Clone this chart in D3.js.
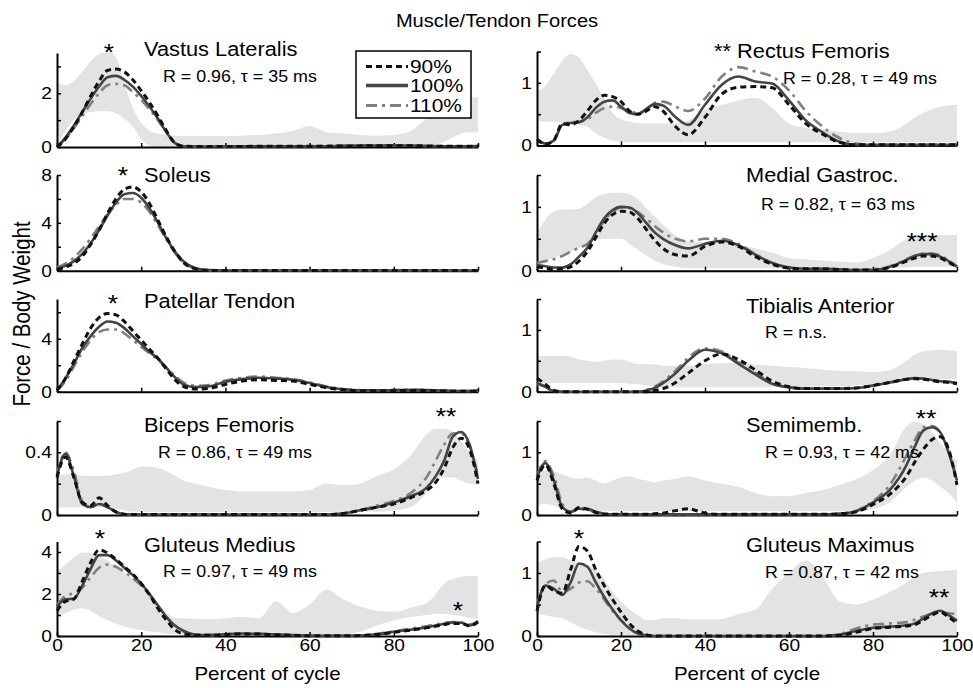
<!DOCTYPE html>
<html>
<head>
<meta charset="utf-8">
<script src="https://cdnjs.cloudflare.com/ajax/libs/d3/7.8.5/d3.min.js"></script>
<style>
  body { margin: 0; background: #fff; }
  svg text { font-family: "Liberation Sans", Arial, Helvetica, sans-serif; fill: #000; }
</style>
</head>
<body>
<div id="chart"></div>
<script>
// percent of gait cycle (shared x grid)
var pct = [0,2,4,6,8,10,12,14,16,18,20,22,24,26,28,30,33,36,40,44,48,52,56,60,64,68,72,76,80,84,88,90,92,94,96,98,100];

// Vastus Lateralis
var vl90  = [0,0.3,0.75,1.3,1.9,2.45,2.85,2.9,2.8,2.5,2.1,1.65,1.15,0.6,0.15,0.03,0.02,0.02,0.02,0.02,0.03,0.03,0.03,0.03,0.03,0.04,0.04,0.05,0.05,0.05,0.04,0.03,0.03,0.03,0.03,0.03,0.04];
var vl100 = [0,0.35,0.8,1.3,1.8,2.25,2.6,2.65,2.5,2.25,1.9,1.5,1.05,0.55,0.15,0.03,0.02,0.02,0.02,0.03,0.03,0.03,0.03,0.03,0.03,0.04,0.05,0.05,0.06,0.05,0.04,0.03,0.03,0.03,0.03,0.03,0.04];
var vl110 = [0,0.3,0.7,1.15,1.6,2.0,2.3,2.35,2.3,2.05,1.75,1.4,1.0,0.55,0.15,0.03,0.02,0.02,0.02,0.03,0.03,0.03,0.03,0.03,0.04,0.05,0.05,0.06,0.06,0.05,0.04,0.04,0.03,0.03,0.03,0.03,0.04];
var vlHi  = [2.4,2.3,2.45,2.8,3.2,3.45,3.55,3.35,2.4,1.45,0.9,0.6,0.5,0.45,0.42,0.42,0.42,0.4,0.4,0.42,0.45,0.5,0.6,0.78,0.55,0.5,0.45,0.42,0.45,0.6,1.1,1.4,1.75,1.85,1.85,1.85,1.85];
var vlLo  = [0.1,0.6,1.0,1.2,1.3,1.33,1.33,1.25,1.05,0.76,0.3,0.05,0.02,0.02,0.02,0.02,0.02,0.02,0.02,0.02,0.02,0.02,0.02,0.02,0.02,0.02,0.02,0.02,0.02,0.03,0.05,0.1,0.2,0.35,0.5,0.55,0.55];

// Rectus Femoris
var rf90  = [0.1,0.02,0.08,0.35,0.33,0.4,0.55,0.72,0.8,0.78,0.7,0.55,0.5,0.55,0.62,0.55,0.3,0.17,0.45,0.82,0.93,0.94,0.92,0.65,0.35,0.18,0.05,0.01,0.01,0.01,0.01,0.01,0.01,0.01,0.01,0.01,0.01];
var rf100 = [0.1,0.03,0.08,0.33,0.36,0.37,0.45,0.6,0.7,0.72,0.62,0.52,0.5,0.58,0.66,0.64,0.45,0.33,0.65,0.97,1.1,1.02,0.99,0.72,0.4,0.21,0.06,0.01,0.01,0.01,0.01,0.01,0.01,0.01,0.01,0.01,0.01];
var rf110 = [0.1,0.03,0.08,0.33,0.37,0.38,0.42,0.52,0.6,0.62,0.6,0.55,0.52,0.58,0.68,0.7,0.62,0.55,0.75,1.1,1.25,1.18,1.1,0.88,0.55,0.3,0.12,0.03,0.01,0.01,0.01,0.01,0.01,0.01,0.01,0.01,0.01];
var rfHi  = [0.88,0.95,1.15,1.35,1.46,1.4,1.2,0.99,0.75,0.52,0.42,0.38,0.36,0.35,0.35,0.35,0.36,0.4,0.58,0.65,0.72,0.76,0.6,0.35,0.28,0.25,0.22,0.2,0.2,0.22,0.35,0.45,0.52,0.58,0.62,0.64,0.65];
var rfLo  = [0.4,0.38,0.38,0.36,0.35,0.33,0.3,0.2,0.12,0.08,0.06,0.05,0.05,0.05,0.05,0.05,0.05,0.05,0.05,0.05,0.05,0.05,0.05,0.05,0.05,0.05,0.05,0.05,0.05,0.05,0.05,0.05,0.05,0.05,0.05,0.05,0.05];

// Soleus (no band)
var so90  = [0.1,0.3,0.6,1.2,2.2,3.4,4.8,6.0,6.8,7.0,6.6,5.6,4.2,2.8,1.6,0.7,0.15,0.03,0.02,0.02,0.02,0.02,0.02,0.02,0.02,0.02,0.02,0.02,0.02,0.02,0.02,0.02,0.02,0.02,0.02,0.02,0.02];
var so100 = [0.2,0.4,0.8,1.4,2.3,3.4,4.6,5.7,6.4,6.5,6.1,5.2,4.0,2.7,1.6,0.8,0.2,0.05,0.02,0.02,0.02,0.02,0.02,0.02,0.02,0.02,0.02,0.02,0.02,0.02,0.02,0.02,0.02,0.02,0.02,0.02,0.02];
var so110 = [0.3,0.6,1.1,1.8,2.7,3.7,4.7,5.5,6.0,6.0,5.7,4.9,3.8,2.6,1.5,0.7,0.15,0.03,0.02,0.02,0.02,0.02,0.02,0.02,0.02,0.02,0.02,0.02,0.02,0.02,0.02,0.02,0.02,0.02,0.02,0.02,0.02];

// Medial Gastroc.
var mg90  = [0.06,0.04,0.02,0.03,0.06,0.15,0.3,0.52,0.74,0.88,0.93,0.92,0.82,0.65,0.48,0.35,0.25,0.23,0.38,0.45,0.38,0.22,0.1,0.04,0.03,0.03,0.02,0.01,0.01,0.05,0.15,0.2,0.23,0.23,0.2,0.13,0.06];
var mg100 = [0.09,0.07,0.05,0.05,0.1,0.22,0.36,0.6,0.82,0.95,1.0,0.99,0.9,0.75,0.6,0.5,0.4,0.35,0.42,0.47,0.4,0.25,0.12,0.05,0.03,0.03,0.02,0.01,0.01,0.06,0.17,0.23,0.26,0.26,0.22,0.15,0.06];
var mg110 = [0.12,0.15,0.18,0.23,0.3,0.36,0.42,0.58,0.78,0.92,0.99,0.98,0.92,0.82,0.7,0.6,0.5,0.46,0.5,0.5,0.42,0.26,0.12,0.05,0.03,0.03,0.02,0.01,0.02,0.07,0.18,0.24,0.27,0.27,0.24,0.16,0.07];
var mgHi  = [0.6,0.8,0.93,0.96,0.96,0.97,1.05,1.15,1.2,1.22,1.22,1.2,1.12,0.98,0.85,0.72,0.55,0.46,0.45,0.44,0.4,0.35,0.28,0.2,0.18,0.16,0.14,0.13,0.2,0.32,0.5,0.55,0.56,0.56,0.56,0.56,0.56];
var mgLo  = [0.12,0.16,0.2,0.25,0.3,0.36,0.42,0.48,0.5,0.5,0.5,0.42,0.33,0.24,0.16,0.1,0.06,0.04,0.04,0.04,0.04,0.04,0.04,0.03,0.03,0.02,0.02,0.02,0.03,0.04,0.05,0.06,0.06,0.06,0.06,0.06,0.06];

// Patellar Tendon (no band)
var pt90  = [0.1,1.0,2.3,3.6,4.8,5.6,5.9,5.8,5.3,4.6,3.9,3.2,2.5,1.7,0.9,0.4,0.2,0.25,0.55,0.8,0.9,0.85,0.8,0.55,0.3,0.15,0.08,0.06,0.08,0.1,0.08,0.06,0.05,0.04,0.03,0.03,0.05];
var pt100 = [0.1,1.0,2.1,3.3,4.2,4.9,5.3,5.2,4.8,4.2,3.6,3.0,2.5,1.8,1.1,0.55,0.35,0.4,0.75,0.95,1.05,1.0,0.9,0.65,0.35,0.18,0.1,0.1,0.12,0.15,0.12,0.1,0.08,0.06,0.05,0.05,0.1];
var pt110 = [0.1,0.8,1.9,3.0,3.9,4.5,4.7,4.7,4.4,3.9,3.4,2.9,2.4,1.8,1.2,0.7,0.45,0.5,0.85,1.05,1.15,1.05,0.95,0.7,0.4,0.2,0.12,0.1,0.12,0.15,0.13,0.1,0.08,0.06,0.05,0.05,0.08];

// Tibialis Anterior
var ta90  = [0.22,0.12,0.02,0,0,0,0,0,0,0,0,0,0,0,0.02,0.05,0.15,0.3,0.5,0.61,0.52,0.35,0.17,0.08,0.05,0.05,0.05,0.06,0.1,0.15,0.2,0.21,0.2,0.18,0.16,0.15,0.13];
var ta100 = [0.14,0.08,0.01,0,0,0,0,0,0,0,0,0,0,0.02,0.06,0.14,0.3,0.5,0.68,0.62,0.45,0.28,0.13,0.07,0.05,0.05,0.05,0.06,0.1,0.15,0.2,0.22,0.21,0.19,0.17,0.16,0.14];
var ta110 = [0.13,0.08,0.01,0,0,0,0,0,0,0,0,0,0,0.03,0.08,0.17,0.34,0.55,0.7,0.65,0.47,0.3,0.14,0.07,0.05,0.05,0.05,0.06,0.1,0.15,0.2,0.22,0.21,0.19,0.17,0.16,0.14];
var taHi  = [0.57,0.58,0.58,0.58,0.57,0.52,0.5,0.48,0.5,0.52,0.52,0.48,0.45,0.45,0.44,0.42,0.42,0.42,0.45,0.46,0.46,0.44,0.42,0.4,0.38,0.36,0.34,0.33,0.32,0.35,0.5,0.6,0.65,0.67,0.68,0.67,0.66];
var taLo  = [0.14,0.14,0.14,0.14,0.14,0.14,0.14,0.14,0.14,0.14,0.14,0.13,0.12,0.1,0.08,0.07,0.07,0.07,0.07,0.07,0.07,0.07,0.08,0.08,0.08,0.09,0.09,0.1,0.12,0.15,0.18,0.2,0.2,0.2,0.2,0.2,0.2];

// Biceps Femoris
var bf90  = [0.24,0.37,0.24,0.08,0.06,0.11,0.06,0.02,0.005,0.003,0.003,0.003,0.003,0.003,0.003,0.003,0.003,0.003,0.003,0.003,0.003,0.003,0.003,0.003,0.003,0.01,0.03,0.05,0.07,0.11,0.16,0.21,0.3,0.43,0.49,0.42,0.2];
var bf100 = [0.25,0.39,0.25,0.07,0.05,0.07,0.05,0.02,0.005,0.003,0.003,0.003,0.003,0.003,0.003,0.003,0.003,0.003,0.003,0.003,0.003,0.003,0.003,0.003,0.003,0.01,0.03,0.05,0.08,0.12,0.18,0.25,0.35,0.5,0.53,0.45,0.23];
var bf110 = [0.26,0.4,0.28,0.09,0.05,0.07,0.05,0.02,0.005,0.003,0.003,0.003,0.003,0.003,0.003,0.003,0.003,0.003,0.003,0.003,0.003,0.003,0.003,0.003,0.003,0.01,0.03,0.06,0.09,0.14,0.25,0.35,0.45,0.52,0.52,0.44,0.25];
var bfHi  = [0.25,0.26,0.26,0.25,0.25,0.25,0.25,0.26,0.27,0.29,0.31,0.31,0.3,0.28,0.25,0.22,0.2,0.18,0.16,0.15,0.15,0.15,0.15,0.16,0.2,0.19,0.2,0.25,0.29,0.38,0.52,0.55,0.55,0.53,0.47,0.4,0.35];
var bfLo  = [0.05,0.05,0.05,0.05,0.05,0.05,0.05,0.04,0.03,0.02,0.02,0.02,0.02,0.02,0.02,0.02,0.02,0.02,0.02,0.02,0.02,0.02,0.02,0.02,0.02,0.02,0.02,0.02,0.03,0.05,0.15,0.22,0.24,0.24,0.22,0.2,0.2];

// Semimemb.
var sm90  = [0.55,0.8,0.5,0.1,0.03,0.12,0.09,0.04,0.01,0.01,0.01,0.01,0.01,0.01,0.02,0.03,0.07,0.1,0.03,0.01,0.01,0.01,0.01,0.01,0.01,0.01,0.02,0.05,0.17,0.33,0.62,0.85,1.05,1.2,1.25,1.05,0.48];
var sm100 = [0.6,0.83,0.55,0.13,0.05,0.1,0.1,0.05,0.02,0.01,0.01,0.01,0.01,0.01,0.01,0.01,0.01,0.01,0.01,0.01,0.01,0.01,0.01,0.01,0.01,0.01,0.02,0.06,0.2,0.4,0.8,1.1,1.35,1.4,1.32,1.0,0.55];
var sm110 = [0.62,0.86,0.62,0.18,0.05,0.09,0.08,0.04,0.02,0.01,0.01,0.01,0.01,0.01,0.01,0.01,0.01,0.01,0.01,0.01,0.01,0.01,0.01,0.01,0.01,0.01,0.02,0.07,0.22,0.48,0.95,1.2,1.4,1.42,1.32,1.0,0.55];
var smHi  = [0.6,0.72,0.7,0.65,0.6,0.58,0.6,0.55,0.5,0.55,0.6,0.62,0.58,0.55,0.52,0.55,0.58,0.62,0.55,0.5,0.45,0.35,0.3,0.3,0.35,0.4,0.48,0.57,0.72,0.95,1.42,1.49,1.45,1.33,1.15,1.0,0.86];
var smLo  = [0.15,0.18,0.15,0.1,0.08,0.07,0.06,0.06,0.06,0.06,0.06,0.06,0.06,0.06,0.06,0.06,0.06,0.06,0.06,0.06,0.06,0.06,0.06,0.06,0.06,0.06,0.06,0.06,0.1,0.2,0.45,0.55,0.6,0.55,0.45,0.35,0.2];

// Gluteus Medius
var gd90  = [1.2,1.65,1.75,2.6,3.5,4.1,3.95,3.65,3.3,2.95,2.5,1.95,1.3,0.75,0.3,0.1,0.04,0.03,0.07,0.1,0.09,0.06,0.03,0.01,0.01,0.01,0.02,0.07,0.18,0.28,0.4,0.47,0.55,0.6,0.6,0.48,0.65];
var gd100 = [1.4,1.75,1.78,2.4,3.2,3.85,3.85,3.6,3.25,2.9,2.5,2.0,1.45,0.9,0.5,0.25,0.06,0.04,0.08,0.12,0.1,0.07,0.04,0.02,0.01,0.01,0.02,0.08,0.2,0.3,0.42,0.5,0.58,0.64,0.63,0.5,0.72];
var gd110 = [1.5,1.9,2.05,2.3,2.8,3.25,3.4,3.3,3.05,2.75,2.4,1.95,1.4,0.9,0.5,0.22,0.06,0.04,0.08,0.12,0.1,0.07,0.04,0.02,0.01,0.01,0.03,0.1,0.22,0.35,0.48,0.55,0.62,0.67,0.65,0.55,0.7];
var gdHi  = [3.1,3.4,3.75,3.98,3.95,3.8,3.6,3.3,3.0,2.75,2.45,2.0,1.5,1.1,0.88,0.84,0.82,0.8,0.85,0.9,0.85,1.65,1.1,1.5,2.2,1.75,1.4,1.2,1.15,1.35,1.6,2.0,2.5,2.7,2.82,2.86,2.86];
var gdLo  = [0.9,1.1,1.25,1.32,1.2,0.95,0.75,0.6,0.45,0.35,0.28,0.22,0.18,0.12,0.08,0.05,0.03,0.03,0.03,0.03,0.03,0.03,0.03,0.03,0.03,0.05,0.2,0.5,0.75,0.9,1.0,1.05,1.05,1.0,0.95,0.85,0.8];

// Gluteus Maximus
var gx90  = [0.4,0.8,0.72,0.68,1.05,1.42,1.35,1.05,0.8,0.58,0.38,0.2,0.08,0.02,0,0,0,0,0,0,0,0,0,0,0,0,0.01,0.06,0.12,0.14,0.16,0.18,0.25,0.33,0.38,0.3,0.2];
var gx100 = [0.45,0.8,0.75,0.65,0.85,1.15,1.1,0.85,0.62,0.42,0.25,0.12,0.04,0.01,0,0,0,0,0,0,0,0,0,0,0,0,0.02,0.08,0.13,0.15,0.17,0.2,0.28,0.36,0.4,0.33,0.24];
var gx110 = [0.5,0.82,0.88,0.7,0.75,0.85,0.87,0.75,0.58,0.4,0.25,0.13,0.05,0.01,0,0,0,0,0,0,0,0,0,0,0,0,0.03,0.12,0.18,0.2,0.22,0.26,0.31,0.35,0.38,0.36,0.35];
var gxHi  = [1.15,1.22,1.25,1.25,1.2,1.15,1.12,1.05,0.9,0.7,0.55,0.42,0.33,0.25,0.25,0.28,0.28,0.26,0.26,0.27,0.35,0.42,0.75,1.0,1.2,0.95,0.55,0.5,0.58,0.7,0.85,0.95,1.0,1.02,1.03,1.04,1.05];
var gxLo  = [0.35,0.33,0.3,0.28,0.22,0.15,0.1,0.06,0.03,0.02,0.02,0.02,0.02,0.02,0.02,0.02,0.02,0.02,0.02,0.02,0.02,0.02,0.02,0.02,0.02,0.02,0.02,0.02,0.02,0.02,0.02,0.02,0.02,0.02,0.02,0.02,0.02];

// labels
var muscleNames = ["Vastus Lateralis", "** Rectus Femoris", "Soleus", "Medial Gastroc.", "Patellar Tendon",
                   "Tibialis Anterior", "Biceps Femoris", "Semimemb.", "Gluteus Medius", "Gluteus Maximus"];
var corrTexts = ["R = 0.96, \u03c4 = 35 ms", "R = 0.28, \u03c4 = 49 ms", "", "R = 0.82, \u03c4 = 63 ms", "",
                 "R = n.s.", "R = 0.86, \u03c4 = 49 ms", "R = 0.93, \u03c4 = 42 ms", "R = 0.97, \u03c4 = 49 ms", "R = 0.87, \u03c4 = 42 ms"];
var yMax = [3.5, 1.5, 8, 1.5, 7, 1.5, 0.6, 1.5, 4.5, 1.5];
var yTicks = [[0,1,2,3],[0,0.5,1,1.5],[0,2,4,6,8],[0,0.5,1,1.5],[0,2,4,6],[0,0.5,1,1.5],[0,0.2,0.4,0.6],[0,0.5,1,1.5],[0,1,2,3,4],[0,0.5,1,1.5]];
var yTickLabels = [[0,2],[0,1],[0,4,8],[0,1],[0,4],[0,1],[0,0.4],[0,1],[0,2,4],[0,1]];
var xTicks = [0,20,40,60,80,100];
var legendNames = ["90%", "100%", "110%"];

// panel table built from the arrays above
var series = [
  [vl90, vl100, vl110, vlLo, vlHi], [rf90, rf100, rf110, rfLo, rfHi],
  [so90, so100, so110, null, null], [mg90, mg100, mg110, mgLo, mgHi],
  [pt90, pt100, pt110, null, null], [ta90, ta100, ta110, taLo, taHi],
  [bf90, bf100, bf110, bfLo, bfHi], [sm90, sm100, sm110, smLo, smHi],
  [gd90, gd100, gd110, gdLo, gdHi], [gx90, gx100, gx110, gxLo, gxHi]
];

// ---- layout ----
var W = 973, H = 688, SX = 1.13;
var colX = [[57, 478], [537, 957]];
var rowY = [[53, 147], [175, 270.7], [299, 391.7], [421, 515], [541.5, 636]];
// [title x, title y, R x, R y] for each panel
var textPos = [[144,56,163,82],[714,58,783,84],[144,182,0,0],[746,182,761,210],[144,308,0,0],
               [746,313,765,338],[144,432,158,458],[746,432,765,458],[144,552,163,577],[746,552,765,578]];
// significance marks [panel, text, x, y-centre]
var stars = [[0,"*",109,47],[2,"*",123,170],[3,"***",922,236],[4,"*",113,298],[6,"**",446,411],
             [7,"**",926,413],[8,"*",100,533],[8,"*",458,605],[9,"*",579,533],[9,"**",939,592]];

var lineStyle = [
  {color: "#111", width: 3, dash: "6,4"},
  {color: "#444", width: 2.6, dash: null},
  {color: "#808080", width: 2.6, dash: "11,5,3,5"}
];

var svg = d3.select("#chart").append("svg")
    .attr("width", W).attr("height", H);

function addText(x, y, str, size, anchor) {
  return svg.append("text")
      .attr("transform", "translate(" + x + "," + y + ") scale(" + SX + ",1)")
      .attr("text-anchor", anchor || "start")
      .style("font-size", size + "px")
      .text(str);
}

var defs = svg.append("defs");

series.forEach(function(s, i) {
  var col = i % 2, row = Math.floor(i / 2);
  var x0 = colX[col][0], x1 = colX[col][1];
  var top = rowY[row][0], bot = rowY[row][1];
  if (i == 1) { top -= 1.5; bot -= 1.5; }

  var x = d3.scaleLinear().domain([0, 100]).range([x0, x1]);
  var y = d3.scaleLinear().domain([0, yMax[i]]).range([bot, top]);

  defs.append("clipPath").attr("id", "clip" + i)
    .append("rect").attr("x", x0).attr("y", top).attr("width", x1 - x0).attr("height", bot - top);

  var g = svg.append("g");

  // EMG range band
  if (s[3]) {
    var lo = s[3];
    var area = d3.area()
        .x(function(d, k) { return x(pct[k]); })
        .y0(function(d, k) { return y(lo[k]); })
        .y1(function(d) { return y(d); })
        .curve(d3.curveMonotoneX);
    g.append("path").datum(s[4])
      .attr("d", area)
      .attr("clip-path", "url(#clip" + i + ")")
      .style("fill", "#e3e3e3");
  }

  // axes
  var yAxis = d3.axisLeft(y).tickValues(yTicks[i]).tickSizeInner(-4).tickSizeOuter(0).tickPadding(5)
      .tickFormat(function(d) { return yTickLabels[i].indexOf(d) >= 0 ? String(d) : ""; });
  var ya = g.append("g").attr("transform", "translate(" + x0 + ",0)").call(yAxis);
  ya.select(".domain").style("stroke", "#000").style("stroke-width", 2);
  ya.selectAll(".tick line").style("stroke", "#000").style("stroke-width", 1.5);
  ya.selectAll(".tick text").style("font-size", "17px").style("font-family", null)
    .attr("x", -5 / SX).attr("transform", "scale(" + SX + ",1)");

  var xAxis = d3.axisBottom(x).tickValues(xTicks).tickSizeInner(-4).tickSizeOuter(0).tickPadding(3)
      .tickFormat(function(d) { return row == 4 ? String(d) : ""; });
  var xa = g.append("g").attr("transform", "translate(0," + bot + ")").call(xAxis);
  xa.select(".domain").style("stroke", "#000").style("stroke-width", 2);
  xa.selectAll(".tick line").style("stroke", "#000").style("stroke-width", 1.5);
  xa.selectAll(".tick text").style("font-size", "17px").style("font-family", null)
    .attr("transform", "scale(" + SX + ",1)");

  // force curves: 110% first, 90% on top
  var line = d3.line()
      .x(function(d, k) { return x(pct[k]); })
      .y(function(d) { return y(d); })
      .curve(d3.curveMonotoneX);
  [2, 1, 0].forEach(function(j) {
    var st = lineStyle[j];
    g.append("path").datum(s[j])
      .attr("d", line)
      .style("fill", "none")
      .style("stroke", st.color)
      .style("stroke-width", st.width)
      .style("stroke-dasharray", st.dash)
      .style("stroke-linejoin", "round");
  });

  addText(textPos[i][0], textPos[i][1], muscleNames[i], 19.3);
  if (corrTexts[i]) addText(textPos[i][2], textPos[i][3], corrTexts[i], 15.8);
});

// asterisks are drawn a bit larger than the text
stars.forEach(function(st) {
  addText(st[2], st[3] + 13.5, st[1], 23.5, "middle");
});

// title and axis labels
addText(497, 26.5, "Muscle/Tendon Forces", 17.8, "middle");
addText(267.5, 680, "Percent of cycle", 18.2, "middle");
addText(747, 680, "Percent of cycle", 18.2, "middle");
svg.append("text")
    .attr("transform", "translate(30,314) scale(" + SX + ",1) rotate(-90)")
    .attr("text-anchor", "middle")
    .style("font-size", "20.5px")
    .text("Force / Body Weight");

// legend
var lg = svg.append("g");
lg.append("rect").attr("x", 356).attr("y", 51).attr("width", 115).attr("height", 67)
  .style("fill", "#fff").style("stroke", "#000").style("stroke-width", 1.5);
var legY = [66.5, 85.5, 105.5];
legendNames.forEach(function(name, j) {
  var st = lineStyle[j];
  lg.append("line").attr("x1", 366).attr("x2", 408).attr("y1", legY[j]).attr("y2", legY[j])
    .style("stroke", st.color).style("stroke-width", j == 1 ? 3.5 : 3)
    .style("stroke-dasharray", st.dash);
  addText(410, legY[j] + 6.5, name, 18.5);
});
</script>
</body>
</html>
